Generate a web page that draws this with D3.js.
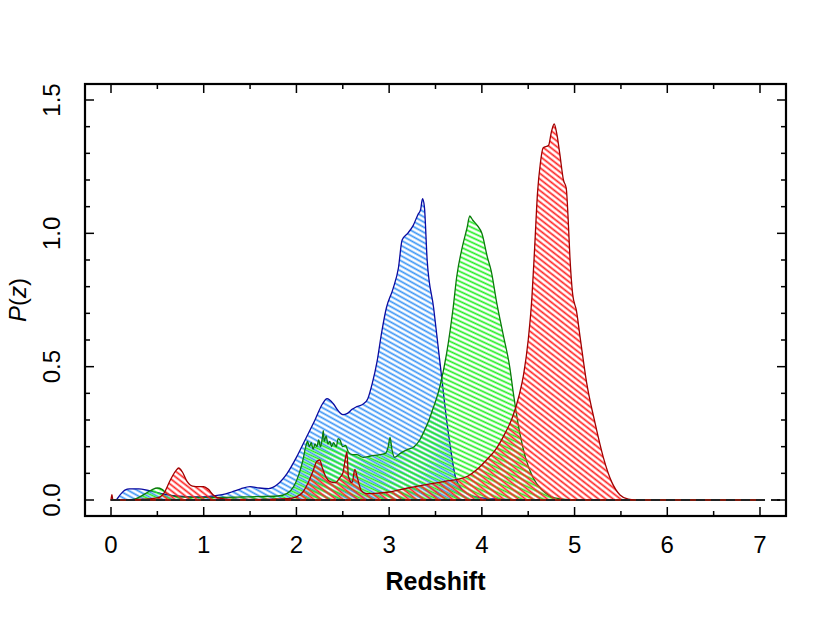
<!DOCTYPE html>
<html><head><meta charset="utf-8">
<script src="https://cdn.jsdelivr.net/npm/d3@7"></script>
<style>body{margin:0;background:#fff}</style>
</head><body>
<script>
// ---- data (z, P(z)) ----
const blue = [[0,0],[0.05,0],[0.1,0.02],[0.15,0.037],[0.2,0.042],[0.3,0.042],[0.4,0.036],[0.5,0.028],[0.6,0.02],[0.7,0.015],[0.85,0.012],[1.0,0.012],[1.1,0.015],[1.2,0.02],[1.3,0.03],[1.4,0.042],[1.5,0.05],[1.6,0.045],[1.7,0.043],[1.8,0.06],[1.9,0.1],[2.0,0.16],[2.1,0.23],[2.2,0.3],[2.28,0.36],[2.33,0.38],[2.4,0.36],[2.45,0.335],[2.5,0.32],[2.55,0.325],[2.6,0.34],[2.65,0.35],[2.72,0.36],[2.77,0.38],[2.82,0.44],[2.87,0.52],[2.92,0.63],[2.97,0.72],[3.04,0.79],[3.1,0.87],[3.14,0.975],[3.2,1.0],[3.26,1.03],[3.31,1.07],[3.34,1.09],[3.36,1.13],[3.38,1.1],[3.41,0.9],[3.48,0.72],[3.53,0.57],[3.57,0.45],[3.62,0.3],[3.66,0.2],[3.72,0.08],[3.8,0.035],[3.9,0.015],[4.0,0.008],[4.2,0.003],[4.5,0],[7,0]];
const green = [[0,0],[0.2,0],[0.25,0.003],[0.3,0.01],[0.4,0.03],[0.45,0.04],[0.5,0.045],[0.55,0.04],[0.6,0.025],[0.7,0.013],[0.9,0.01],[1.2,0.01],[1.5,0.012],[1.8,0.015],[1.9,0.025],[1.97,0.05],[2.03,0.1],[2.07,0.15],[2.1,0.2],[2.12,0.22],[2.14,0.2],[2.16,0.215],[2.18,0.19],[2.2,0.21],[2.22,0.2],[2.24,0.225],[2.26,0.2],[2.28,0.235],[2.29,0.26],[2.3,0.22],[2.32,0.24],[2.34,0.21],[2.36,0.22],[2.38,0.2],[2.4,0.215],[2.43,0.2],[2.45,0.23],[2.47,0.225],[2.5,0.2],[2.53,0.205],[2.56,0.18],[2.6,0.17],[2.65,0.17],[2.72,0.16],[2.8,0.165],[2.9,0.17],[2.96,0.175],[2.99,0.2],[3.01,0.235],[3.03,0.19],[3.06,0.16],[3.12,0.175],[3.2,0.19],[3.27,0.2],[3.33,0.225],[3.38,0.26],[3.43,0.3],[3.47,0.34],[3.51,0.38],[3.55,0.43],[3.62,0.55],[3.69,0.72],[3.73,0.84],[3.79,0.95],[3.84,1.02],[3.87,1.065],[3.9,1.05],[3.95,1.03],[4.0,1.0],[4.06,0.91],[4.1,0.86],[4.16,0.74],[4.23,0.62],[4.3,0.5],[4.34,0.4],[4.37,0.33],[4.41,0.25],[4.47,0.16],[4.55,0.085],[4.65,0.037],[4.75,0.012],[4.85,0.004],[5.0,0],[7,0]];
const red = [[0,0],[0.01,0.02],[0.02,0],[0.3,0.002],[0.5,0.008],[0.57,0.025],[0.64,0.075],[0.7,0.11],[0.73,0.12],[0.77,0.105],[0.82,0.07],[0.88,0.052],[0.95,0.05],[1.0,0.05],[1.05,0.04],[1.1,0.02],[1.18,0.006],[1.3,0.002],[1.6,0.002],[1.9,0.005],[2.0,0.012],[2.07,0.03],[2.12,0.06],[2.18,0.11],[2.22,0.145],[2.25,0.15],[2.28,0.12],[2.32,0.085],[2.37,0.068],[2.42,0.065],[2.47,0.085],[2.5,0.1],[2.53,0.16],[2.545,0.18],[2.56,0.09],[2.6,0.065],[2.63,0.115],[2.66,0.08],[2.7,0.035],[2.75,0.024],[2.85,0.025],[3.0,0.03],[3.2,0.045],[3.4,0.058],[3.6,0.07],[3.75,0.078],[3.85,0.09],[3.95,0.115],[4.05,0.15],[4.15,0.19],[4.25,0.25],[4.33,0.31],[4.4,0.39],[4.45,0.47],[4.5,0.6],[4.54,0.76],[4.57,0.95],[4.6,1.15],[4.63,1.26],[4.66,1.32],[4.72,1.33],[4.75,1.38],[4.78,1.41],[4.81,1.37],[4.84,1.3],[4.88,1.2],[4.91,1.17],[4.93,1.06],[4.95,0.91],[4.98,0.77],[5.02,0.71],[5.06,0.61],[5.13,0.44],[5.22,0.29],[5.31,0.16],[5.4,0.068],[5.49,0.019],[5.58,0.003],[5.65,0],[7,0]];
const xTicks = [0,1,2,3,4,5,6,7];
const yTickLabels = ["0.0","0.5","1.0","1.5"];
const yTickValues = [0,0.5,1.0,1.5];
const xLabel = "Redshift";

const W = 830, H = 623;
const box = {l:85, r:786, t:84, b:516};
const x = d3.scaleLinear().domain([0,7]).range([111,760]);
const y = d3.scaleLinear().domain([0,1.5]).range([500,100]);

const svg = d3.select("body").append("svg").attr("width",W).attr("height",H)
  .style("font-family","'Liberation Sans', Arial, Helvetica, sans-serif");

const defs = svg.append("defs");
function hatch(id, color, angle, spacing) {
  const p = defs.append("pattern").attr("id",id).attr("patternUnits","userSpaceOnUse")
    .attr("width",20).attr("height",spacing).attr("patternTransform",`rotate(${angle})`);
  p.append("line").attr("x1",0).attr("x2",20).attr("y1",spacing/2).attr("y2",spacing/2)
    .attr("stroke",color).attr("stroke-width",1.7);
}
hatch("hBlue","#3a95f5",29,4.5);
hatch("hGreen","#22ee22",25,4.5);
hatch("hRed","#ff2222",38,4.5);

const area = d3.area().x(d=>x(d[0])).y0(y(0)).y1(d=>y(d[1])).curve(d3.curveMonotoneX);

const series = [
  {data:blue, fill:"url(#hBlue)", stroke:"#0a0aa0"},
  {data:green, fill:"url(#hGreen)", stroke:"#0a7a0a"},
  {data:red, fill:"url(#hRed)", stroke:"#a00000"}
];
series.forEach(s=>{
  svg.append("path").attr("d",area(s.data)).attr("fill",s.fill)
    .attr("stroke",s.stroke).attr("stroke-width",1.3).attr("stroke-linejoin","round");
});

// dashed zero line
svg.append("line").attr("x1",x(0)).attr("x2",x(7.25)).attr("y1",y(0)).attr("y2",y(0))
  .attr("stroke","#222").attr("stroke-width",2.2).attr("stroke-dasharray","9,6");

// ticks (inward, all sides)
const tk = svg.append("g").attr("stroke","#000").attr("stroke-width",1.5);
d3.range(0,7.01,0.5).forEach(v=>{
  const L = Math.abs(v-Math.round(v))<1e-6 ? 9 : 5;
  tk.append("line").attr("x1",x(v)).attr("x2",x(v)).attr("y1",box.b).attr("y2",box.b-L);
  tk.append("line").attr("x1",x(v)).attr("x2",x(v)).attr("y1",box.t).attr("y2",box.t+L);
});
d3.range(0,1.501,0.1).forEach(v=>{
  const L = Math.abs(v*2-Math.round(v*2))<1e-6 ? 9 : 5;
  tk.append("line").attr("y1",y(v)).attr("y2",y(v)).attr("x1",box.l).attr("x2",box.l+L);
  tk.append("line").attr("y1",y(v)).attr("y2",y(v)).attr("x1",box.r).attr("x2",box.r-L);
});

// box
svg.append("rect").attr("x",box.l).attr("y",box.t).attr("width",box.r-box.l).attr("height",box.b-box.t)
  .attr("fill","none").attr("stroke","#000").attr("stroke-width",2.2);

// x tick labels
svg.append("g").selectAll("text").data(xTicks).join("text")
  .attr("x",d=>x(d)).attr("y",553).attr("text-anchor","middle")
  .attr("font-size",24).text(d=>d);
// y tick labels
svg.append("g").selectAll("text").data(yTickValues).join("text")
  .attr("transform",d=>`translate(60,${y(d)}) rotate(-90)`).attr("text-anchor","middle")
  .attr("font-size",24).text((d,i)=>yTickLabels[i]);

// axis titles
svg.append("text").attr("x",x(3.5)).attr("y",590).attr("text-anchor","middle")
  .attr("font-size",25).attr("font-weight","bold").text(xLabel);
const yl = svg.append("text").attr("transform",`translate(26,300) rotate(-90)`)
  .attr("text-anchor","middle").attr("font-size",24);
yl.append("tspan").attr("font-style","italic").text("P");
yl.append("tspan").text("(");
yl.append("tspan").attr("font-style","italic").text("z");
yl.append("tspan").text(")");
</script>
</body></html>
